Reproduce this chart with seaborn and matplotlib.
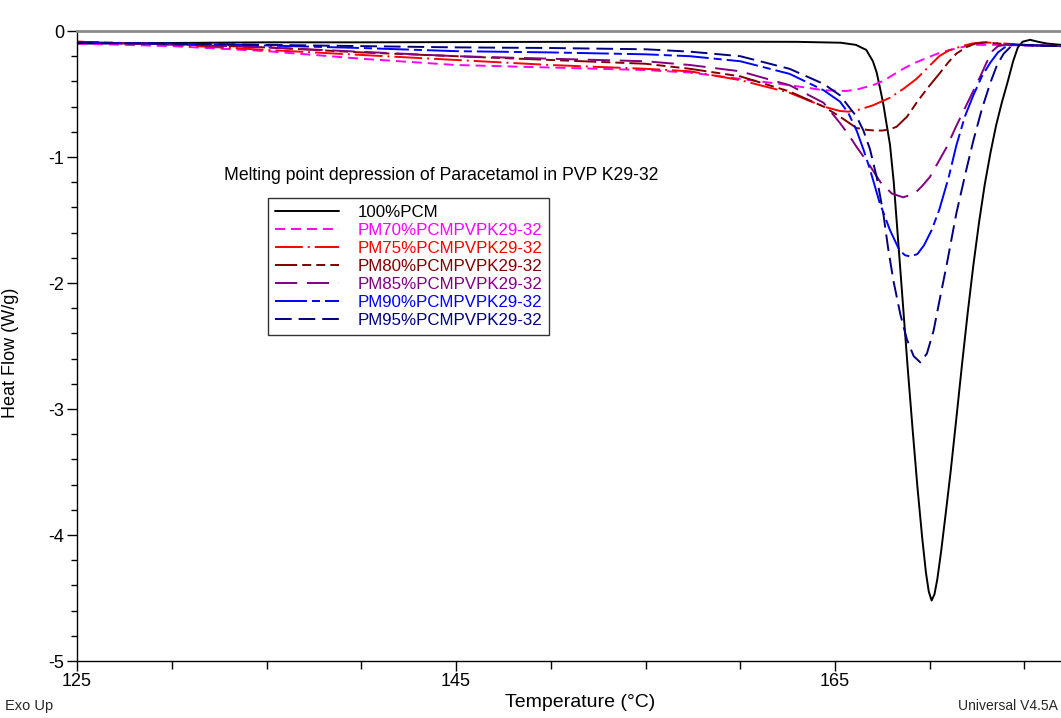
import matplotlib
matplotlib.use("Agg")
import matplotlib.pyplot as plt
import seaborn as sns
import pandas as pd
from matplotlib.ticker import MultipleLocator

# ---------------- data ----------------
labels = ["100%PCM", "PM70%PCMPVPK29-32", "PM75%PCMPVPK29-32", "PM80%PCMPVPK29-32",
          "PM85%PCMPVPK29-32", "PM90%PCMPVPK29-32", "PM95%PCMPVPK29-32"]

pcm100_T = [125, 130, 135, 140, 145, 150, 155, 160, 163, 165.3, 166.1, 166.65, 167.0, 167.2,
            167.4, 167.55, 167.7, 167.9, 168.1, 168.35, 168.6, 168.85, 169.1, 169.35, 169.6,
            169.8, 169.95, 170.1, 170.25, 170.4, 170.6, 170.85, 171.1, 171.4, 171.7, 172.0,
            172.3, 172.6, 172.9, 173.2, 173.5, 173.8, 174.1, 174.4, 174.65, 174.9, 175.3,
            175.7, 176.2, 176.93]
pcm100_HF = [-0.100, -0.095, -0.090, -0.090, -0.088, -0.086, -0.085, -0.085, -0.086, -0.093,
             -0.110, -0.150, -0.240, -0.330, -0.470, -0.580, -0.720, -0.900, -1.200, -1.700,
             -2.200, -2.700, -3.170, -3.620, -4.020, -4.300, -4.450, -4.520, -4.470, -4.350,
             -4.130, -3.820, -3.500, -3.080, -2.650, -2.240, -1.860, -1.520, -1.220, -0.970,
             -0.750, -0.570, -0.410, -0.240, -0.130, -0.085, -0.070, -0.085, -0.100, -0.110]

pm70_T = [125, 130, 135, 140, 145, 150, 155, 157.35, 160, 162.6, 164.4, 165.26, 165.6,
          166.14, 167.0, 167.55, 168.1, 168.6, 169.1, 169.66, 170.4, 171.07, 171.8, 172.3,
          173.5, 176.93]
pm70_HF = [-0.100, -0.120, -0.160, -0.220, -0.270, -0.290, -0.310, -0.330, -0.380, -0.430,
           -0.470, -0.475, -0.476, -0.465, -0.430, -0.395, -0.345, -0.300, -0.260, -0.225,
           -0.180, -0.150, -0.125, -0.110, -0.110, -0.120]

pm75_T = [125, 130, 135, 140, 145, 150, 155, 157.35, 160, 162.6, 164.4, 165.26, 165.7,
          166.14, 167.0, 167.9, 168.6, 169.3, 169.9, 170.5, 171.0, 171.6, 172.2, 172.8,
          173.5, 175.0, 176.93]
pm75_HF = [-0.085, -0.110, -0.150, -0.190, -0.230, -0.270, -0.300, -0.320, -0.390, -0.490,
           -0.600, -0.635, -0.640, -0.630, -0.590, -0.530, -0.460, -0.380, -0.290, -0.200,
           -0.155, -0.125, -0.100, -0.090, -0.095, -0.110, -0.120]

pm80_T = [125, 130, 135, 140, 145, 150, 155, 157.35, 160, 162.6, 164.4, 165.26, 166.14,
          166.7, 167.1, 167.5, 167.9, 168.25, 168.8, 169.3, 169.9, 170.5, 171.0, 171.4,
          171.9, 172.4, 173.0, 173.6, 175.0, 176.93]
pm80_HF = [-0.085, -0.105, -0.130, -0.170, -0.200, -0.230, -0.260, -0.300, -0.360, -0.480,
           -0.600, -0.680, -0.770, -0.785, -0.790, -0.790, -0.780, -0.760, -0.680, -0.570,
           -0.450, -0.340, -0.245, -0.180, -0.130, -0.100, -0.090, -0.100, -0.110, -0.120]

pm85_T = [125, 130, 135, 140, 145, 150, 155, 157.35, 160, 162.6, 164.4, 165.26, 165.7,
          166.14, 166.8, 167.4, 168.0, 168.6, 169.2, 169.6, 170.0, 170.45, 170.9, 171.35,
          171.8, 172.25, 172.7, 173.0, 173.3, 173.6, 174.0, 176.93]
pm85_HF = [-0.090, -0.105, -0.130, -0.165, -0.200, -0.220, -0.240, -0.270, -0.320, -0.430,
           -0.570, -0.730, -0.820, -0.920, -1.060, -1.200, -1.290, -1.320, -1.290, -1.230,
           -1.160, -1.040, -0.920, -0.770, -0.630, -0.490, -0.350, -0.250, -0.160, -0.120,
           -0.110, -0.120]

pm90_T = [125, 130, 135, 140, 145, 150, 155, 157.35, 160, 162.6, 164.4, 165.26, 165.7,
          166.14, 166.5, 166.85, 167.35, 167.9, 168.4, 168.7, 169.0, 169.35, 169.7, 170.1,
          170.5, 171.0, 171.4, 171.85, 172.3, 172.75, 173.2, 173.6, 173.95, 174.4, 176.93]
pm90_HF = [-0.095, -0.100, -0.115, -0.135, -0.160, -0.170, -0.185, -0.200, -0.240, -0.340,
           -0.470, -0.560, -0.650, -0.790, -0.940, -1.100, -1.360, -1.580, -1.740, -1.780,
           -1.790, -1.770, -1.700, -1.580, -1.420, -1.160, -0.910, -0.680, -0.510, -0.360,
           -0.250, -0.170, -0.130, -0.110, -0.120]

pm95_T = [125, 130, 135, 140, 145, 150, 155, 157.35, 160, 162.6, 164.4, 165.26, 166.14,
          166.5, 166.85, 167.2, 167.55, 167.8, 168.08, 168.45, 168.8, 169.15, 169.5, 169.85,
          170.2, 170.5, 170.9, 171.4, 171.9, 172.3, 172.75, 173.2, 173.55, 173.9, 174.3,
          174.7, 176.93]
pm95_HF = [-0.095, -0.100, -0.110, -0.120, -0.130, -0.135, -0.145, -0.164, -0.200, -0.300,
           -0.420, -0.510, -0.680, -0.790, -0.940, -1.160, -1.450, -1.720, -1.980, -2.250,
           -2.450, -2.580, -2.630, -2.560, -2.380, -2.150, -1.850, -1.450, -1.120, -0.870,
           -0.620, -0.410, -0.270, -0.180, -0.120, -0.110, -0.120]

x_ticks = [125, 145, 165]
y_ticks = [0, -1, -2, -3, -4, -5]

# ---------------- styling ----------------
sns.set_theme(style="white")
plt.rcParams['font.family'] = ['Liberation Sans', 'DejaVu Sans']
plt.rcParams['axes.unicode_minus'] = False
plt.rcParams['lines.scale_dashes'] = False

colors = ["#000000", "#FF00FF", "#FF0000", "#800000", "#800080", "#0000FF", "#000080"]
styles = ["-",
          (0, (7.2, 4.3)),
          (0, (20, 3.6, 1.4, 3.6)),
          (0, (16, 3.6, 6.5, 3.6, 6.5, 3.6)),
          (0, (16, 7)),
          (0, (23, 3.6, 5.8, 3.6)),
          (0, (12, 5))]

series = [(pcm100_T, pcm100_HF), (pm70_T, pm70_HF), (pm75_T, pm75_HF), (pm80_T, pm80_HF),
          (pm85_T, pm85_HF), (pm90_T, pm90_HF), (pm95_T, pm95_HF)]

W, H = 1061, 718
fig = plt.figure(figsize=(W / 100, H / 100), dpi=100)
ax = fig.add_axes([77 / W, 1 - 661 / H, (W - 77) / W, (661 - 31) / H])

for (T, HF), lab, c, ls in zip(series, labels, colors, styles):
    df = pd.DataFrame({"T": T, "HF": HF})
    sns.lineplot(data=df, x="T", y="HF", ax=ax, color=c, linestyle=ls, linewidth=1.4,
                 label=lab, sort=False, estimator=None)

ax.set_xlim(125, 125 + (W - 77) / 18.95)
ax.set_ylim(-5, 0)
ax.set_xticks(x_ticks)
ax.set_yticks(y_ticks)
ax.xaxis.set_minor_locator(MultipleLocator(5))
ax.yaxis.set_minor_locator(MultipleLocator(0.2))
ax.tick_params(axis="both", which="major", direction="out", length=7, width=1,
               color="black", labelsize=13, labelcolor="black", pad=2,
               bottom=True, left=True)
ax.tick_params(axis="x", which="minor", direction="out", length=6, width=1,
               color="black", bottom=True)
ax.tick_params(axis="y", which="minor", direction="out", length=4, width=1,
               color="black", left=True)
ax.grid(False)

for s in ["left", "bottom"]:
    ax.spines[s].set_color("black")
    ax.spines[s].set_linewidth(1.0)
ax.spines["top"].set_color("#8a8a8a")
ax.spines["top"].set_linewidth(2.0)
ax.spines["right"].set_visible(False)

ax.set_xlabel("Temperature (°C)", fontsize=14, color="black")
ax.xaxis.set_label_coords(0.511, -0.053)
ax.set_ylabel("Heat Flow (W/g)", fontsize=13, color="black")
ax.yaxis.set_label_coords(-0.059, 0.489)

ax.text(0.1494, 0.771, "Melting point depression of Paracetamol in PVP K29-32",
        transform=ax.transAxes, fontsize=12.7, ha="left", va="center", color="black")

leg = ax.legend(loc="upper left", bbox_to_anchor=(0.194, 0.735), borderaxespad=0,
                fontsize=12.2, frameon=True, fancybox=False, edgecolor="black",
                handlelength=3.8, handletextpad=1.1, labelspacing=0.18,
                borderpad=0.4, labelcolor="linecolor")
leg.get_frame().set_linewidth(1.0)

fig.text(5 / W, 1 - 706 / H, "Exo Up", fontsize=10.5, ha="left", va="center")
fig.text(958 / W, 1 - 706 / H, "Universal V4.5A", fontsize=10, ha="left", va="center")

fig.savefig("out.png", dpi=100)
